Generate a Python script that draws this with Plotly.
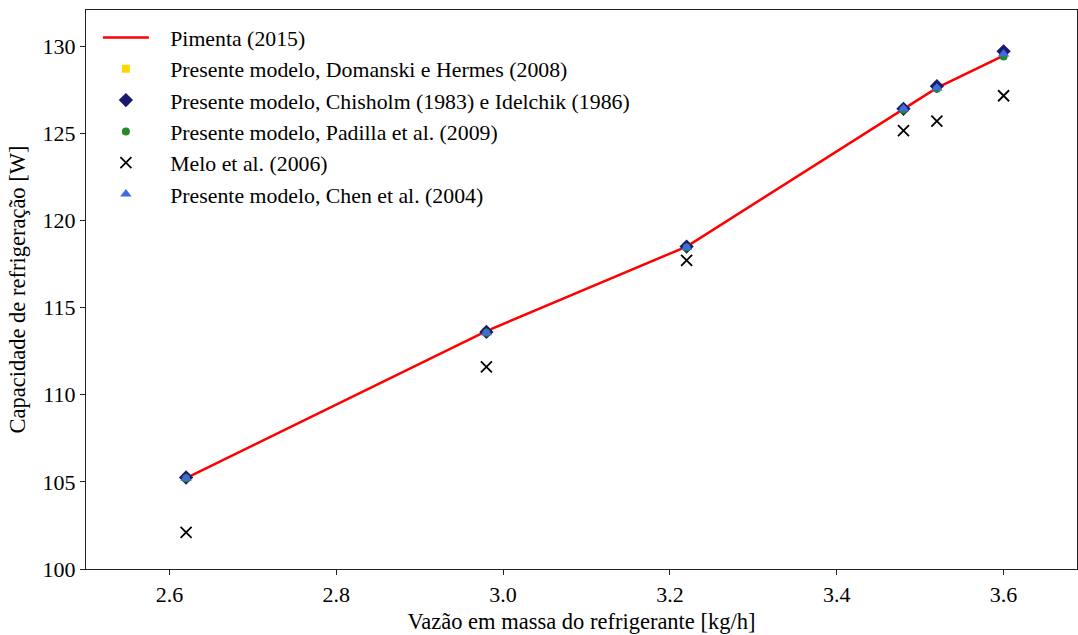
import plotly.graph_objects as go

x_vals = [2.62, 2.98, 3.22, 3.48, 3.52, 3.60]
pimenta = [105.22, 113.65, 118.5, 126.4, 127.6, 129.45]
domanski = [105.25, 113.6, 118.5, 126.4, 127.65, 129.6]
chisholm = [105.25, 113.6, 118.5, 126.4, 127.7, 129.7]
padilla = [105.2, 113.55, 118.45, 126.35, 127.55, 129.4]
melo = [102.1, 111.6, 117.7, 125.15, 125.7, 127.15]
chen = [105.2, 113.55, 118.45, 126.4, 127.6, 129.55]

FONT = "Liberation Serif"
PAD = "\u00a0\u00a0\u00a0"
fig = go.Figure()
fig.add_trace(go.Scatter(x=x_vals, y=pimenta, mode="lines", name=PAD + "Pimenta (2015)",
                         line=dict(color="#ff0000", width=2.5), legendgroup="a"))
fig.add_trace(go.Scatter(x=x_vals, y=domanski, mode="markers", name=PAD + "Presente modelo, Domanski e Hermes (2008)",
                         marker=dict(symbol="square", color="#ffd700", size=8), legendgroup="b"))
fig.add_trace(go.Scatter(x=x_vals, y=chisholm, mode="markers", name=PAD + "Presente modelo, Chisholm (1983) e Idelchik (1986)",
                         marker=dict(symbol="diamond", color="#191970", size=11), legendgroup="c"))
fig.add_trace(go.Scatter(x=x_vals, y=padilla, mode="markers", name=PAD + "Presente modelo, Padilla et al. (2009)",
                         marker=dict(symbol="circle", color="#228b22", size=8), legendgroup="d"))
fig.add_trace(go.Scatter(x=x_vals, y=melo, mode="markers", name=PAD + "Melo et al. (2006)",
                         marker=dict(symbol="x-thin", color="black", size=11, line=dict(color="black", width=1.8)), legendgroup="e"))
fig.add_trace(go.Scatter(x=x_vals, y=chen, mode="markers", name=PAD + "Presente modelo, Chen et al. (2004)",
                         marker=dict(symbol="triangle-up", color="#4169e1", size=10), legendgroup="f"))

axis_common = dict(showline=True, linecolor="#222", linewidth=1.3, mirror=True,
                   ticks="outside", ticklen=5, tickwidth=1.2, tickcolor="#222",
                   showgrid=False, zeroline=False,
                   tickfont=dict(family=FONT, size=22, color="black"))
fig.update_xaxes(range=[2.5, 3.688], tickvals=[2.6, 2.8, 3.0, 3.2, 3.4, 3.6],
                 ticktext=["2.6", "2.8", "3.0", "3.2", "3.4", "3.6"],
                 title=dict(text="Vazão em massa do refrigerante [kg/h]", font=dict(family=FONT, size=22.5, color="black"), standoff=7),
                 **axis_common)
fig.update_yaxes(range=[100, 132.07], tickvals=[100, 105, 110, 115, 120, 125, 130],
                 title=dict(text="Capacidade de refrigeração [W]", font=dict(family=FONT, size=22.5, color="black"), standoff=10),
                 **axis_common)
fig.update_layout(width=1078, height=635, margin=dict(l=86, r=1, t=10, b=66),
                  plot_bgcolor="white", paper_bgcolor="white", hovermode=False,
                  legend=dict(x=0.012, y=0.988, xanchor="left", yanchor="top",
                              bgcolor="rgba(0,0,0,0)", font=dict(family=FONT, size=21.8, color="black"),
                              traceorder="grouped", tracegroupgap=0, itemwidth=46))
fig.write_html("out.html")
